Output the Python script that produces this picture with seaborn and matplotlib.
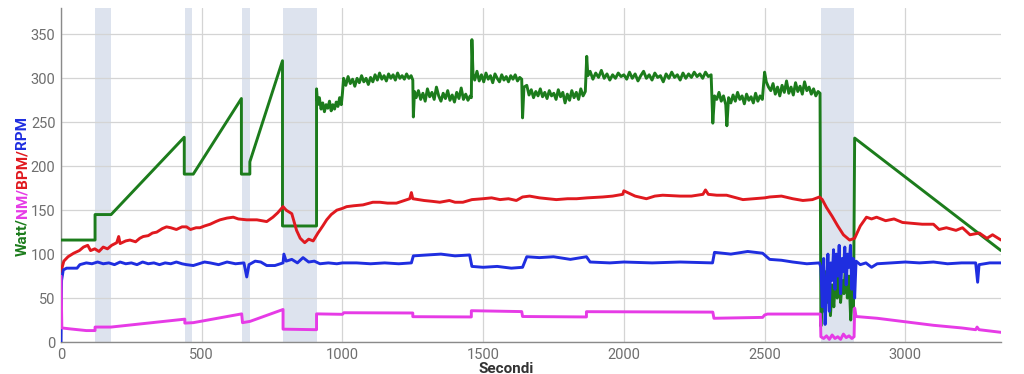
import matplotlib
matplotlib.use("Agg")
import matplotlib.pyplot as plt
import seaborn as sns
import pandas as pd

# ---------------- data ----------------
watt_t = [0, 121, 121, 178, 438, 438, 470, 641, 641, 671, 671, 787, 787, 908, 908,
          912, 918, 924, 930, 936, 942, 948, 954, 960, 966, 972, 978, 984, 990, 996, 1000,
          1004, 1012, 1020, 1028, 1036, 1044, 1052, 1060, 1068, 1076, 1084, 1092, 1100, 1108, 1116,
          1124, 1132, 1140, 1148, 1156, 1164, 1172, 1180, 1188, 1196, 1204, 1212, 1220, 1228, 1236,
          1244, 1250, 1252, 1256,
          1262, 1270, 1278, 1286, 1294, 1302, 1310, 1318, 1326, 1334, 1342, 1350, 1358, 1366, 1374,
          1382, 1390, 1398, 1406, 1414, 1422, 1430, 1438, 1446, 1454, 1458, 1460, 1464, 1470,
          1478, 1486, 1494, 1502, 1510, 1518, 1526, 1534, 1542, 1550, 1558, 1566, 1574, 1582, 1590,
          1598, 1606, 1614, 1622, 1630, 1637, 1640, 1645,
          1655, 1663, 1671, 1679, 1687, 1695, 1703, 1711, 1719, 1727, 1735, 1743, 1751, 1759, 1767,
          1775, 1783, 1791, 1799, 1807, 1815, 1823, 1831, 1839, 1847, 1855, 1863, 1868, 1872,
          1880, 1890, 1900, 1910, 1920, 1930, 1940, 1950, 1960, 1970, 1980, 1990, 2000, 2010, 2020,
          2030, 2040, 2050, 2060, 2070, 2080, 2090, 2100, 2110, 2120, 2130, 2140, 2150, 2160, 2170,
          2180, 2190, 2200, 2210, 2220, 2230, 2240, 2250, 2260, 2270, 2280, 2290, 2300, 2310,
          2316, 2322, 2330, 2338, 2346, 2354, 2362, 2366, 2372, 2380, 2388, 2396, 2404, 2412, 2420,
          2428, 2436, 2444, 2452, 2460, 2468, 2476, 2484, 2492,
          2500, 2506, 2514, 2522, 2530, 2538, 2546, 2554, 2562, 2570, 2578, 2586, 2594, 2602, 2610,
          2618, 2626, 2634, 2642, 2650, 2658, 2666, 2674, 2682, 2690, 2697,
          2700, 2705, 2710, 2716, 2722, 2728, 2734, 2740, 2746, 2752, 2758, 2764, 2770, 2776, 2782,
          2788, 2794, 2800, 2806, 2812, 2816, 2820, 3340]
watt_v = [116, 116, 145, 145, 233, 191, 191, 277, 191, 191, 205, 320, 132, 132, 288,
          270, 278, 265, 272, 262, 270, 266, 274, 263, 270, 265, 273, 268, 278, 270, 283,
          300, 292, 302, 294, 299, 291, 300, 295, 303, 296, 300, 293, 301, 296, 304,
          298, 306, 299, 303, 297, 305, 300, 304, 298, 306, 300, 303, 299, 305, 300,
          303, 298, 256, 285,
          278, 286, 276, 283, 274, 288, 279, 284, 276, 290, 280, 274, 283, 277, 286,
          275, 281, 273, 284, 277, 289, 276, 282, 275, 280, 278, 344, 305, 298,
          308, 297, 304, 296, 306, 299, 303, 295, 305, 300, 296, 304, 298, 302, 296,
          303, 299, 304, 297, 301, 299, 255, 290,
          292, 281, 287, 278, 285, 280, 288, 279, 284, 277, 286, 280, 283, 276, 287,
          279, 284, 272, 282, 275, 286, 278, 284, 276, 288, 280, 285, 325, 303,
          308, 299, 306, 301, 309, 300, 305, 298, 304, 300, 306, 302, 304, 299, 307,
          300, 305, 297, 303, 308, 300, 304, 298, 306, 301, 303, 296, 305, 300, 307,
          301, 304, 298, 306, 300, 305, 301, 307, 302, 305, 300, 307, 302, 304,
          249, 280, 276, 284, 274, 280, 270, 246, 278, 272, 281, 274, 284, 276, 280,
          271, 282, 275, 279, 272, 283, 274, 280, 276,
          307, 296, 290, 286, 294, 282, 290, 280, 292, 284, 297, 283, 290, 281, 295,
          285, 291, 282, 296, 286, 290, 282, 288, 280, 285, 283,
          18, 60, 35, 80, 45, 70, 30, 65, 40, 75, 50, 85, 45, 70, 55,
          92, 50, 75, 25, 60, 40, 232, 104]

bpm_t = [0, 10, 25, 45, 65, 80, 95, 105, 120, 135, 150, 165, 180, 198, 205, 210, 230, 245,
         265, 280, 292, 310, 325, 340, 360, 375, 390, 410, 430, 446, 460, 480, 494, 510, 530,
         550, 565, 590, 612, 630, 660, 696, 731, 753, 770, 789, 800, 820, 837, 850, 866, 880,
         896, 913, 930, 944, 960, 980, 1000, 1015, 1040, 1073, 1097, 1108, 1133, 1160, 1192,
         1239, 1245, 1250, 1290, 1320, 1346, 1380, 1400, 1428, 1460, 1499, 1530, 1560, 1590,
         1618, 1640, 1665, 1700, 1730, 1760, 1800, 1832, 1870, 1925, 1960, 1996, 2000, 2040,
         2080, 2110, 2138, 2200, 2240, 2281, 2290, 2300, 2330, 2365, 2400, 2423, 2460, 2500,
         2518, 2560, 2600, 2636, 2670, 2695, 2705, 2720, 2740, 2760, 2780, 2802, 2820, 2840,
         2862, 2880, 2898, 2930, 2960, 2990, 3026, 3060, 3100, 3120, 3146, 3180, 3203, 3230,
         3263, 3290, 3310, 3340]
bpm_v = [80, 92, 97, 101, 104, 108, 110, 104, 106, 103, 108, 106, 110, 113, 120, 112, 115, 116,
         114, 118, 120, 121, 124, 125, 129, 131, 130, 128, 131, 131, 128, 130, 130, 132, 134,
         137, 139, 141, 142, 140, 139, 139, 137, 142, 147, 154, 150, 146, 127, 118, 113, 117,
         115, 124, 132, 139, 145, 150, 152, 154, 155, 156, 158, 159, 159, 158, 158,
         163, 170, 163, 161, 160, 159, 161, 159, 159, 162, 163, 164, 162, 163,
         161, 165, 166, 164, 163, 162, 163, 163, 164, 165, 166, 168, 172, 166,
         163, 166, 167, 166, 166, 168, 173, 168, 167, 167, 164, 162, 163, 164,
         165, 166, 163, 161, 162, 165, 162, 153, 143, 132, 122, 116, 118, 132,
         142, 140, 142, 138, 140, 136, 135, 134, 134, 128, 130, 127, 130, 122,
         124, 118, 122, 116]

rpm_t = [0, 2, 8, 20, 57, 67, 90, 110, 130, 150, 170, 190, 210, 230, 250, 270, 290, 310, 330,
         350, 370, 390, 410, 430, 446, 470, 490, 510, 530, 560, 590, 620, 650, 660, 668, 690,
         710, 731, 760, 789, 792, 800, 820, 840, 860, 880, 900, 920, 950, 980, 1000, 1050, 1100,
         1150, 1200, 1245, 1252, 1300, 1350, 1400, 1452, 1460, 1500, 1550, 1600, 1640, 1655,
         1700, 1750, 1810, 1867, 1880, 1950, 2000, 2100, 2200, 2315, 2322, 2380, 2440, 2493,
         2518, 2560, 2600, 2650, 2695,
         2700, 2705, 2710, 2715, 2720, 2725, 2730, 2735, 2740, 2745, 2750, 2755, 2760, 2765,
         2770, 2775, 2780, 2785, 2790, 2795, 2800, 2805, 2810, 2815, 2820, 2825,
         2840, 2860, 2880, 2900, 2950, 3000, 3050, 3100, 3150, 3200, 3250, 3257, 3262, 3300, 3340]
rpm_v = [0, 70, 82, 84, 84, 88, 90, 89, 91, 89, 90, 88, 91, 89, 90, 88, 91, 89, 90,
         88, 90, 89, 91, 89, 88, 87, 89, 91, 90, 88, 91, 89, 90, 74, 88, 92,
         91, 87, 87, 90, 100, 92, 94, 90, 96, 91, 92, 89, 90, 89, 90, 90, 89,
         90, 89, 90, 98, 99, 100, 98, 99, 86, 85, 86, 84, 85, 97,
         96, 97, 94, 97, 91, 90, 91, 90, 91, 90, 102, 100, 103, 101,
         94, 93, 91, 89, 90,
         85, 40, 95, 20, 60, 100, 35, 90, 70, 105, 60, 100, 75, 110,
         55, 95, 80, 108, 65, 100, 85, 110, 60, 95, 50, 92,
         88, 90, 85, 89, 90, 91, 90, 91, 89, 90, 90, 68, 88, 90, 90]

nm_t = [0, 3, 30, 60, 90, 121, 121, 178, 440, 440, 470, 642, 645, 672, 789, 789, 908, 908,
        1000, 1005, 1250, 1250, 1458, 1458, 1637, 1640, 1867, 1867, 2316, 2320, 2493, 2500,
        2510, 2698, 2700, 2710, 2720, 2730, 2740, 2750, 2760, 2770, 2780, 2790, 2800, 2810,
        2818, 2820, 2825, 2900, 3000, 3100, 3200, 3250, 3255, 3262, 3340]
nm_v = [75, 16, 15, 14, 13, 13, 17, 17, 26, 21.5, 22, 32, 22, 23.5, 37, 14.6, 14, 32,
        31.5, 33.3, 33, 28.8, 28.5, 35.6, 34.6, 29, 28.5, 34.5, 34, 27, 28, 30.7,
        31.8, 31.8, 6, 4, 7, 3, 8, 4, 6, 3, 9, 5, 7, 4,
        6, 38.6, 29, 27, 23, 19, 16, 14, 17, 14, 11]

band_starts = [121, 440, 643, 789, 2699]
band_ends = [178, 467, 672, 908, 2819]

x_ticks = [0, 500, 1000, 1500, 2000, 2500, 3000]
y_ticks = [0, 50, 100, 150, 200, 250, 300, 350]

series_names = ["Watt", "BPM", "RPM", "NM"]
series_colors = ["#1c7c1c", "#e0191f", "#1f2ee0", "#e63be6"]

# ---------------- plot ----------------
sns.set_theme(style="whitegrid")
plt.rcParams["font.family"] = ["Roboto", "DejaVu Sans"]

fig = plt.figure(figsize=(10.24, 3.74), dpi=100)
ax = fig.add_axes([61 / 1024, 1 - 342 / 374, 940 / 1024, 334 / 374])

for s, e in zip(band_starts, band_ends):
    ax.axvspan(s, e, color="#dde3ee", lw=0, zorder=0.5)

frames = {
    "Watt": pd.DataFrame({"t": watt_t, "v": watt_v}),
    "BPM": pd.DataFrame({"t": bpm_t, "v": bpm_v}),
    "RPM": pd.DataFrame({"t": rpm_t, "v": rpm_v}),
    "NM": pd.DataFrame({"t": nm_t, "v": nm_v}),
}
for name, col in zip(series_names, series_colors):
    sns.lineplot(data=frames[name], x="t", y="v", estimator=None, sort=False,
                 color=col, lw=2.1, ax=ax, zorder=3)

ax.set_xlim(0, 3340)
ax.set_ylim(0, 380)
ax.set_xticks(x_ticks)
ax.set_yticks(y_ticks)
ax.grid(True, color="#d4d4d4", lw=0.9)
ax.set_axisbelow(True)
ax.set_facecolor("white")
for sp in ["top", "right"]:
    ax.spines[sp].set_visible(False)
for sp in ["left", "bottom"]:
    ax.spines[sp].set_color("#8a8a8a")
    ax.spines[sp].set_linewidth(1.0)
ax.tick_params(axis="both", length=0, labelsize=10.5, colors="#6e6e6e", pad=4)
ax.set_xlabel("")
ax.set_ylabel("")

fig.text(506 / 1024, 1 - 369 / 374, "Secondi", ha="center", va="center",
         fontsize=11, fontweight="bold", color="#333333")

# multi-coloured y label
pieces = [("Watt/", series_colors[0]), ("NM/", series_colors[3]),
          ("BPM/", series_colors[1]), ("RPM", series_colors[2])]
fig.canvas.draw()
renderer = fig.canvas.get_renderer()
texts = []
total = 0
for txt, col in pieces:
    t = fig.text(0, 0, txt, rotation=90, color=col, fontsize=11, fontweight="bold",
                 ha="center", va="bottom")
    bb = t.get_window_extent(renderer)
    texts.append((t, bb.height))
    total += bb.height
cx = 22
cy = 374 - 186
y0 = cy - total / 2
for t, h in texts:
    t.set_position((cx / 1024, y0 / 374))
    y0 += h

fig.savefig("out.png", dpi=100, facecolor="white")
